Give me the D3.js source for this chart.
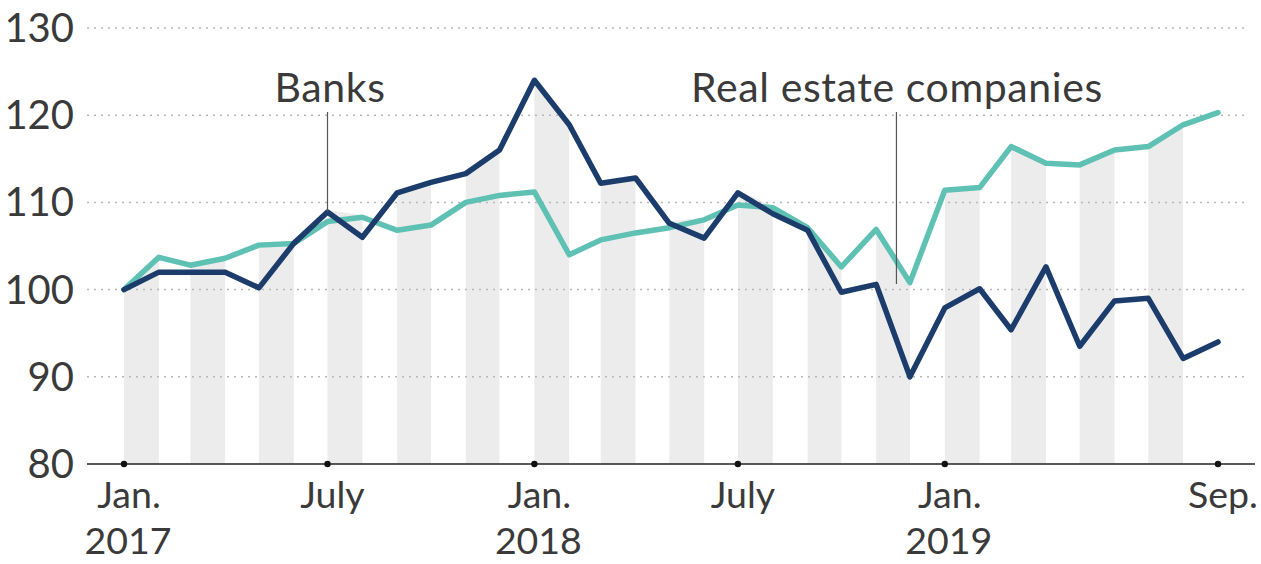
<!DOCTYPE html>
<html>
<head>
<meta charset="utf-8">
<script src="https://cdn.jsdelivr.net/npm/d3@7"></script>
<style>
  html, body { margin: 0; padding: 0; background: #fff; }
  svg { display: block; }
  text { font-family: Lato, "Noto Sans", sans-serif; font-weight: 400; fill: #3a3a3a; }
</style>
</head>
<body>
<svg id="chart" width="1261" height="564"></svg>
<script>
// Monthly index, Jan. 2017 = 100
const months = d3.range(33).map(i => new Date(2017, i, 1));

const banks = [100, 102, 102, 102, 100.2, 105.3, 108.9, 106, 111.1, 112.3, 113.3, 116,
  124, 118.9, 112.2, 112.8, 107.6, 105.9, 111.1, 108.7, 106.8, 99.7, 100.6, 90,
  97.9, 100.1, 95.4, 102.6, 93.5, 98.7, 99.0, 92.1, 94.0];

const realEstate = [100, 103.7, 102.8, 103.6, 105.1, 105.3, 107.8, 108.3, 106.8, 107.4, 110, 110.8,
  111.2, 104, 105.7, 106.5, 107.1, 108, 109.7, 109.4, 107.1, 102.6, 106.9, 100.8,
  111.4, 111.7, 116.4, 114.5, 114.3, 116, 116.4, 118.9, 120.3];

const yTicks = [80, 90, 100, 110, 120, 130];
const xTickMonths = [new Date(2017, 0, 1), new Date(2017, 6, 1), new Date(2018, 0, 1),
  new Date(2018, 6, 1), new Date(2019, 0, 1), new Date(2019, 8, 1)];
const xTickLabels = [["Jan.", "2017"], ["July", ""], ["Jan.", "2018"], ["July", ""], ["Jan.", "2019"], ["Sep.", ""]];

const seriesNames = ["Banks", "Real estate companies"];
// month each label points at (fractional months allowed)
const labelMonth = [6, 22.6];

const svg = d3.select("#chart");
const x = d3.scaleTime().domain([months[0], months[32]]).range([124, 1218]);
const y = d3.scaleLinear().domain([80, 130]).range([464, 28]);

const colBanks = "#1c3d6c";
const colReal = "#5fc1b3";

// Alternating month bands, shown beneath the upper of the two lines
const upper = months.map((m, i) => ({ m, v: Math.max(banks[i], realEstate[i]) }));
const clipArea = d3.area().x(d => x(d.m)).y0(y(80)).y1(d => y(d.v) - 2);
svg.append("defs").append("clipPath").attr("id", "underLines")
  .append("path").attr("d", clipArea(upper));

svg.append("g").attr("clip-path", "url(#underLines)")
  .selectAll("rect")
  .data(d3.range(0, 32, 2))
  .join("rect")
  .attr("x", i => x(months[i]))
  .attr("width", i => x(months[i + 1]) - x(months[i]))
  .attr("y", y(130))
  .attr("height", y(80) - y(130))
  .attr("fill", "#ececec");

// Dotted gridlines
svg.append("g").selectAll("line")
  .data(yTicks.filter(t => t > 80))
  .join("line")
  .attr("x1", 87).attr("x2", 1245)
  .attr("y1", d => y(d)).attr("y2", d => y(d))
  .attr("stroke", "#b8b8b8")
  .attr("stroke-width", 1.5)
  .attr("stroke-dasharray", "2,5");

// Y labels
svg.append("g").selectAll("text")
  .data(yTicks)
  .join("text")
  .attr("x", 74)
  .attr("y", d => y(d) + 14)
  .attr("text-anchor", "end")
  .attr("font-size", 40)
  .text(d => d);

// X axis line, ticks and labels
svg.append("line")
  .attr("x1", 87).attr("x2", 1255)
  .attr("y1", y(80)).attr("y2", y(80))
  .attr("stroke", "#222").attr("stroke-width", 1.5);

svg.append("g").selectAll("circle")
  .data(xTickMonths)
  .join("circle")
  .attr("cx", d => x(d)).attr("cy", y(80)).attr("r", 3.2)
  .attr("fill", "#111");

const xl = svg.append("g").selectAll("g")
  .data(xTickMonths.map((d, i) => ({ d, lab: xTickLabels[i] })))
  .join("g");
xl.append("text")
  .attr("x", d => x(d.d) + 5).attr("y", 508)
  .attr("text-anchor", "middle").attr("font-size", 37.5)
  .text(d => d.lab[0]);
xl.append("text")
  .attr("x", d => x(d.d) + 4).attr("y", 554)
  .attr("text-anchor", "middle").attr("font-size", 37.5)
  .text(d => d.lab[1]);

// Lines
const line = d3.line().x(d => x(d.m)).y(d => y(d.v)).curve(d3.curveLinear);
const toPts = arr => months.map((m, i) => ({ m, v: arr[i] }));

svg.append("path").attr("d", line(toPts(realEstate)))
  .attr("fill", "none").attr("stroke", colReal)
  .attr("stroke-width", 5.5).attr("stroke-linejoin", "round").attr("stroke-linecap", "round");
svg.append("path").attr("d", line(toPts(banks)))
  .attr("fill", "none").attr("stroke", colBanks)
  .attr("stroke-width", 5.5).attr("stroke-linejoin", "round").attr("stroke-linecap", "round");

// Series labels with leader lines
const monthX = t => {
  const i = Math.floor(t), f = t - i;
  return x(months[i]) + f * (x(months[Math.min(i + 1, 32)]) - x(months[i]));
};
const interp = (arr, t) => {
  const i = Math.floor(t), f = t - i;
  return arr[i] + f * ((arr[Math.min(i + 1, 32)]) - arr[i]);
};
const leaderEnds = [interp(banks, labelMonth[0]), interp(realEstate, labelMonth[1]) - 2.6];
const labelCenters = [330, 897];

seriesNames.forEach((name, k) => {
  const lx = monthX(labelMonth[k]);
  svg.append("line")
    .attr("x1", lx).attr("x2", lx)
    .attr("y1", 112).attr("y2", y(leaderEnds[k]))
    .attr("stroke", "#555").attr("stroke-width", 1.2);
  svg.append("text")
    .attr("x", labelCenters[k]).attr("y", 102)
    .attr("text-anchor", "middle").attr("font-size", 41)
    .attr("letter-spacing", 0.6)
    .text(name);
});
</script>
</body>
</html>
